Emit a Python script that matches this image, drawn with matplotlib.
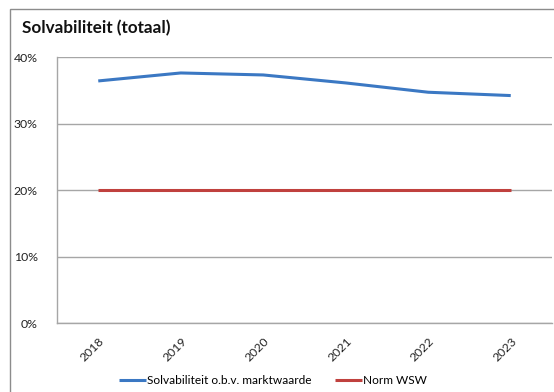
import matplotlib
matplotlib.use("Agg")
import matplotlib.pyplot as plt
from matplotlib.patches import Rectangle
from matplotlib.ticker import FuncFormatter

years = ["2018", "2019", "2020", "2021", "2022", "2023"]
solvabiliteit = [36.4, 37.6, 37.3, 36.1, 34.7, 34.2]
norm_wsw = [20, 20, 20, 20, 20, 20]
yticks = [0, 10, 20, 30, 40]

plt.rcParams['font.family'] = ['Lato', 'DejaVu Sans']

fig = plt.figure(figsize=(5.54, 3.92), dpi=100)
W, H = 554, 392
# outer frame
fig.patches.append(Rectangle((10 / W, -0.1), 1.0, 1 - 9 / H + 0.1, transform=fig.transFigure,
                             fill=False, edgecolor='#8c8c8c', linewidth=1.0, clip_on=False))

ax = fig.add_axes([57 / W, 1 - 323 / H, 495 / W, 266 / H])
x = list(range(len(years)))
ax.plot(x, solvabiliteit, color='#3b78c3', linewidth=2.2, solid_capstyle='butt',
        label='Solvabiliteit o.b.v. marktwaarde')
ax.plot(x, norm_wsw, color='#c0413e', linewidth=2.2, solid_capstyle='butt', label='Norm WSW')

ax.set_xlim(-0.5, len(years) - 0.5)
ax.set_ylim(0, 40)
ax.set_yticks(yticks)
ax.yaxis.set_major_formatter(FuncFormatter(lambda v, p: f"{int(v)}%"))
ax.set_xticks(x)
ax.set_xticklabels(years, rotation=45, ha='right', rotation_mode='anchor')
ax.tick_params(axis='both', length=0, labelsize=8.8, colors='#222222')
ax.tick_params(axis='x', pad=9)
ax.tick_params(axis='y', pad=14)
ax.grid(axis='y', color='#a6a6a6', linewidth=1.0)
ax.set_axisbelow(True)
for s in ['top', 'right']:
    ax.spines[s].set_visible(False)
for s in ['left', 'bottom']:
    ax.spines[s].set_color('#a6a6a6')
    ax.spines[s].set_linewidth(1.0)

fig.text(22 / W, 1 - 28 / H, 'Solvabiliteit (totaal)', fontsize=12.3, fontweight='bold',
         va='center', ha='left', color='#111111')

leg = fig.legend(loc='center', bbox_to_anchor=(273 / W, 1 - 381 / H), ncol=2, frameon=False,
                 fontsize=8.6, handlelength=2.2, handletextpad=0.1, columnspacing=2.0)

fig.savefig('out.png', dpi=100)
